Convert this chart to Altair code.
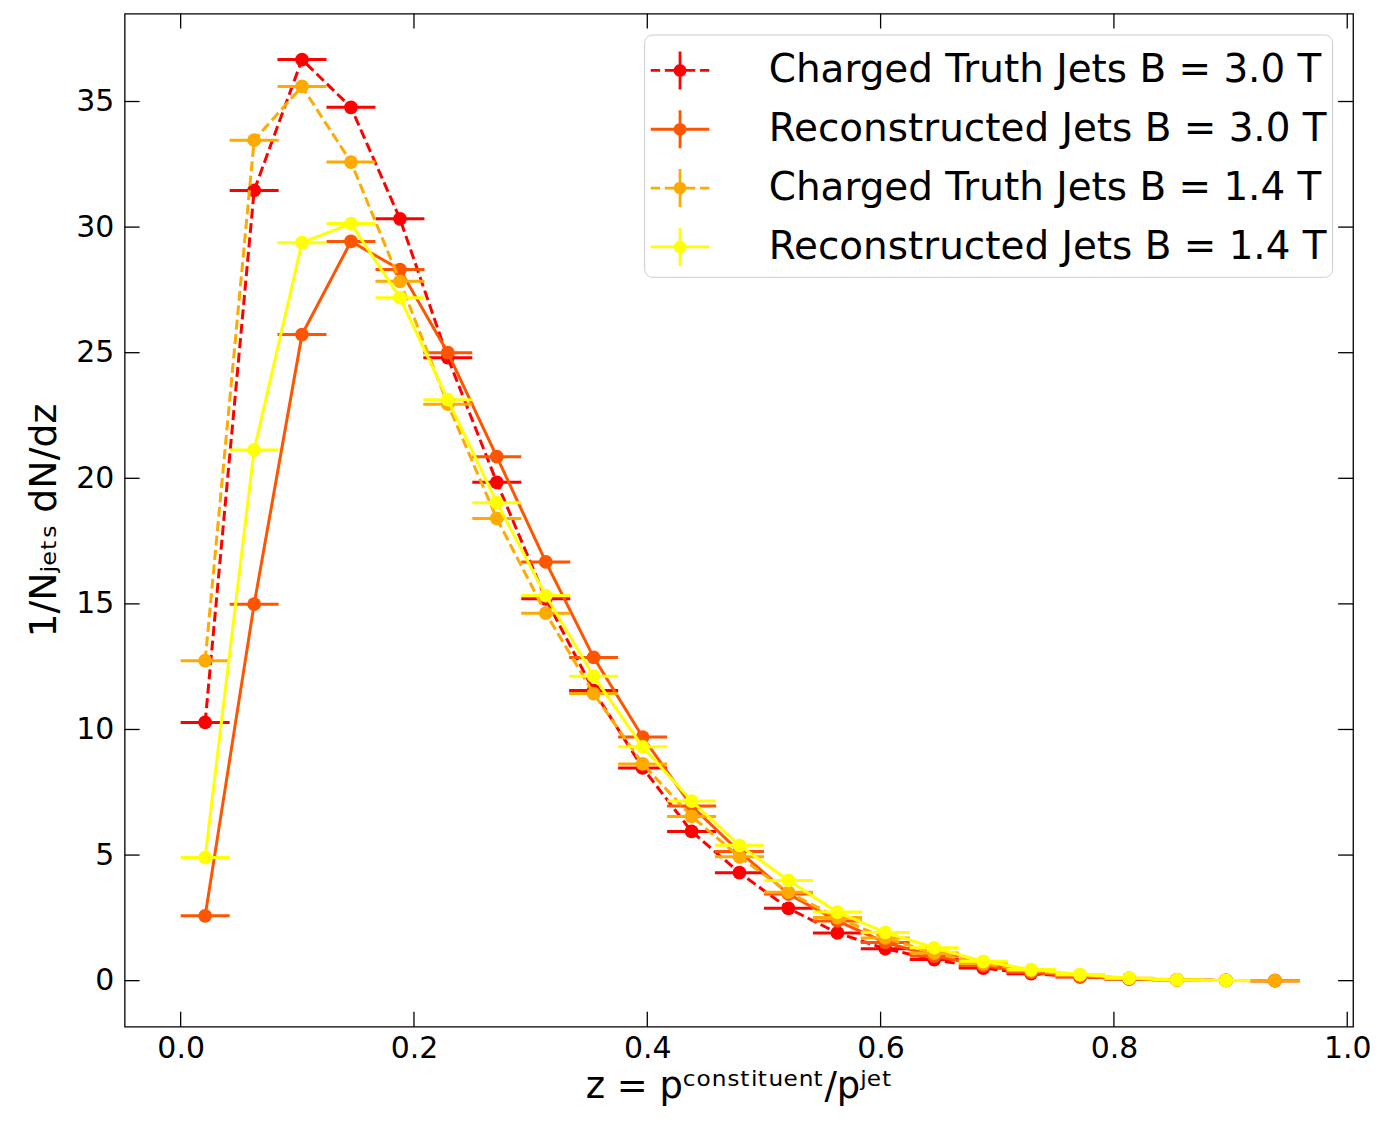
import altair as alt
import pandas as pd

# ---------------- data ----------------
z_centers = [0.021, 0.063, 0.104, 0.146, 0.188, 0.229, 0.271, 0.313, 0.354, 0.396,
             0.438, 0.479, 0.521, 0.563, 0.604, 0.646, 0.688, 0.729, 0.771, 0.813,
             0.854, 0.896, 0.938]
half_width = 0.021

truth_30 = [10.28, 31.46, 36.67, 34.77, 30.33, 24.80, 19.84, 15.20, 11.55, 8.47,
            5.94, 4.30, 2.88, 1.90, 1.27, 0.84, 0.50, 0.28, 0.15, 0.07, 0.03, 0.01, 0.0]
reco_30 = [2.58, 14.99, 25.72, 29.43, 28.31, 25.00, 20.86, 16.67, 12.87, 9.70,
           6.95, 5.14, 3.45, 2.38, 1.52, 0.98, 0.60, 0.33, 0.17, 0.07, 0.03, 0.01, 0.0]
truth_14 = [12.74, 33.46, 35.60, 32.59, 27.84, 22.95, 18.40, 14.63, 11.43, 8.63,
            6.54, 4.93, 3.52, 2.51, 1.70, 1.10, 0.68, 0.40, 0.22, 0.10, 0.04, 0.01, 0.0]
reco_14 = [4.90, 21.13, 29.38, 30.14, 27.19, 23.13, 19.03, 15.33, 12.12, 9.31,
           7.15, 5.39, 3.99, 2.73, 1.92, 1.31, 0.77, 0.44, 0.25, 0.10, 0.03, 0.01, None]

series_names = ["Charged Truth Jets B = 3.0 T", "Reconstructed Jets B = 3.0 T",
                "Charged Truth Jets B = 1.4 T", "Reconstructed Jets B = 1.4 T"]
series_values = [truth_30, reco_30, truth_14, reco_14]
series_colors = ["#ff0000", "#ff5500", "#ffaa00", "#ffff00"]
series_dashed = [True, False, True, False]

x_ticks = [0.0, 0.2, 0.4, 0.6, 0.8, 1.0]
y_ticks = [0, 5, 10, 15, 20, 25, 30, 35]

# ---------------- layout ----------------
W, H = 1232, 1016
FONT = "DejaVu Sans"
xscale = alt.Scale(domain=[-0.048, 1.005], nice=False, zero=False)
yscale = alt.Scale(domain=[-1.83, 38.5], nice=False, zero=False)
xaxis = alt.Axis(values=x_ticks, format=".1f", title="z = pᶜᵒⁿˢᵗⁱᵗᵘᵉⁿᵗ/pʲᵉᵗ",
                 titleFontSize=37, labelPadding=7, titlePadding=5)
yaxis = alt.Axis(values=y_ticks, title="1/Nⱼₑₜₛ dN/dz", titleFontSize=38,
                 labelPadding=11, titlePadding=12)


def X(field):
    return alt.X(field, scale=xscale, axis=xaxis)


def Y(field):
    return alt.Y(field, scale=yscale, axis=yaxis)


layers = []
for name, vals, color, dashed in zip(series_names, series_values, series_colors, series_dashed):
    d = pd.DataFrame({"z": z_centers, "v": vals}).dropna()
    d["lo"] = d["z"] - half_width
    d["hi"] = d["z"] + half_width
    base = alt.Chart(d)
    line_kwargs = dict(color=color, strokeWidth=3)
    if dashed:
        line_kwargs["strokeDash"] = [10, 4.5]
    layers.append(base.mark_line(**line_kwargs).encode(x=X("z:Q"), y=Y("v:Q")))
    layers.append(base.mark_rule(color=color, strokeWidth=3).encode(
        x=X("lo:Q"), x2="hi:Q", y=Y("v:Q")))
    layers.append(base.mark_circle(color=color, opacity=1, size=190).encode(
        x=X("z:Q"), y=Y("v:Q")))

# inward ticks on all four sides
yt = pd.DataFrame({"t": y_ticks})
xt = pd.DataFrame({"t": x_ticks})
TL = 15
tick_style = dict(color="black", strokeWidth=1.3)
layers.append(alt.Chart(yt).mark_rule(**tick_style).encode(
    y=Y("t:Q"), x=alt.value(0), x2=alt.value(TL)))
layers.append(alt.Chart(yt).mark_rule(**tick_style).encode(
    y=Y("t:Q"), x=alt.value(W - TL), x2=alt.value(W)))
layers.append(alt.Chart(xt).mark_rule(**tick_style).encode(
    x=X("t:Q"), y=alt.value(H - TL), y2=alt.value(H)))
layers.append(alt.Chart(xt).mark_rule(**tick_style).encode(
    x=X("t:Q"), y=alt.value(0), y2=alt.value(TL)))

# legend: custom symbols (line + errorbar + marker)
solid_path = ("M-1,0L1,0M0,-0.65L0,0.65"
              "M0.17,0A0.17,0.17 0 1,1 -0.17,0A0.17,0.17 0 1,1 0.17,0Z")
dashed_path = ("M-1,0L-0.68,0M-0.52,0L-0.2,0M0.2,0L0.52,0M0.68,0L1,0M0,-0.65L0,0.65"
               "M0.17,0A0.17,0.17 0 1,1 -0.17,0A0.17,0.17 0 1,1 0.17,0Z")
legend_paths = [dashed_path if d else solid_path for d in series_dashed]


def make_legend():
    return alt.Legend(title=None, orient="top-right", offset=21, padding=5,
                      fillColor="rgba(255,255,255,0.8)", strokeColor="#cccccc",
                      cornerRadius=8, labelFont=FONT, labelFontSize=39,
                      labelColor="black", labelLimit=1000, labelOffset=58,
                      symbolSize=3450, symbolStrokeWidth=2.8, symbolOpacity=1,
                      rowPadding=3)


leg_df = pd.DataFrame({"series": series_names})
layers.append(alt.Chart(leg_df).mark_point(opacity=0, filled=True).encode(
    shape=alt.Shape("series:N", scale=alt.Scale(domain=series_names, range=legend_paths),
                    legend=make_legend()),
    fill=alt.Fill("series:N", scale=alt.Scale(domain=series_names, range=series_colors),
                  legend=make_legend()),
    stroke=alt.Stroke("series:N", scale=alt.Scale(domain=series_names, range=series_colors),
                      legend=make_legend()),
))

chart = alt.layer(*layers).properties(
    width=W, height=H,
    padding={"left": 17, "top": 3, "right": 2, "bottom": 5},
).configure(font=FONT).configure_view(
    stroke="black", strokeWidth=1.3
).configure_axis(
    grid=False, domain=False, ticks=False, tickSize=0,
    labelFont=FONT, labelFontSize=30, labelColor="black",
    titleFont=FONT, titleFontWeight="normal", titleColor="black",
)

chart.save("out.html", embed_options={"renderer": "svg", "actions": False})
